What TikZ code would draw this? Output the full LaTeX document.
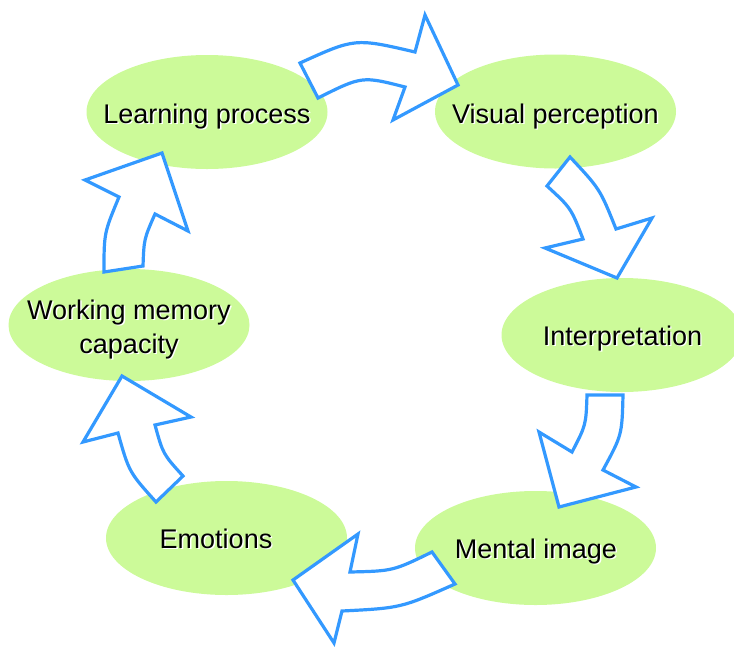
\documentclass[tikz,border=0pt]{standalone}
\usepackage{fontspec}
\setmainfont{Liberation Sans}
\usetikzlibrary{shapes.geometric}
\definecolor{ellgreen}{RGB}{204,250,153}
\definecolor{arrblue}{RGB}{51,153,255}
\tikzset{
  stage/.style={ellipse, fill=ellgreen, draw=none, minimum width=241pt, minimum height=114pt, inner sep=0pt},
  stagetext/.style={anchor=base, inner sep=0pt, font=\fontsize{27}{34}\selectfont, align=center},
  shadowtext/.style={stagetext, text=white},
  blockarrow/.style={draw=arrblue, fill=white, line width=3.2pt, line join=miter}
}
\begin{document}
\begin{tikzpicture}[x=1pt,y=-1pt]
\useasboundingbox (0,0) rectangle (734,646);
\node[stage] (learnE) at (207,112) {};
\node[stage] (visualE) at (555.5,111.5) {};
\node[stage] (interpE) at (622,335) {};
\node[stage] (mentalE) at (535.5,548) {};
\node[stage] (emotE) at (226.5,538) {};
\node[stage, minimum height=112pt] (workE) at (129,325) {};
% text shadows
\node[shadowtext] at (208.3,124.3) {Learning process};
\node[shadowtext] at (556.8,124.3) {Visual perception};
\node[shadowtext] at (623.8,346.3) {Interpretation};
\node[shadowtext] at (537.3,559.3) {Mental image};
\node[shadowtext] at (217.3,549.3) {Emotions};
\node[shadowtext] at (130.3,354.3) {Working memory\\capacity};
% texts
\node[stagetext] (learn) at (207,123) {Learning process};
\node[stagetext] (visual) at (555.5,123) {Visual perception};
\node[stagetext] (interp) at (622.5,345) {Interpretation};
\node[stagetext] (mental) at (536,558) {Mental image};
\node[stagetext] (emot) at (216,548) {Emotions};
\node[stagetext] (work) at (129,353) {Working memory\\capacity};
% arrow learning -> visual
\draw[blockarrow] (300,63) .. controls (355,38) .. (415,52) -- (425,15) -- (458,85) -- (393,120) -- (405,87) .. controls (362,76) .. (318,98) -- cycle;
% arrow visual -> interpretation
\draw[blockarrow] (570,157) .. controls (600,189) .. (616,229) -- (652,218) -- (617,278) -- (545,248) -- (583,239) .. controls (571,208) .. (547,186) -- cycle;
% arrow interpretation -> mental
\draw[blockarrow] (623,395) .. controls (622,435) .. (603,470) -- (636,487) -- (559,507) -- (539,432) -- (572,452) .. controls (586,425) .. (587,395) -- cycle;
% arrow mental -> emotions
\draw[blockarrow] (455,584) .. controls (401,608) .. (342,611) -- (334,643) -- (293,580) -- (358,534) -- (350,572) .. controls (393,571) .. (432,552) -- cycle;
% arrow emotions -> working
\draw[blockarrow] (156,502) .. controls (129,472) .. (118,433) -- (83,442) -- (122,376) -- (191,417) -- (155,425) .. controls (163,454) .. (183,476) -- cycle;
% arrow working -> learning
\draw[blockarrow] (104,272) .. controls (104,233) .. (119,197) -- (85,180) -- (162,153) -- (188,231) -- (155,214) .. controls (144,239) .. (143,266) -- cycle;
\end{tikzpicture}
\end{document}
